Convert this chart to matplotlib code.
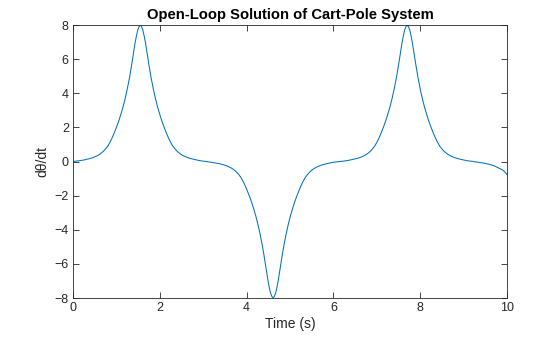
import numpy as np
import matplotlib
matplotlib.use("Agg")
import matplotlib.pyplot as plt

# values (time in s, angular velocity)
t = [0.0, 0.15, 0.25, 0.35, 0.45, 0.55, 0.6, 0.65, 0.7, 0.75, 0.8, 0.85, 0.9, 0.95,
     1.0, 1.05, 1.1, 1.15, 1.2, 1.25, 1.3, 1.35, 1.39, 1.43, 1.46, 1.49, 1.52, 1.55,
     1.58, 1.61, 1.64, 1.67, 1.71, 1.75, 1.8, 1.85, 1.9, 1.95, 2.0, 2.05, 2.1, 2.15,
     2.2, 2.25, 2.3, 2.35, 2.4, 2.45, 2.5, 2.55, 2.65, 2.75, 2.85, 2.95, 3.05, 3.15,
     3.25, 3.36, 3.46, 3.56, 3.66, 3.71, 3.76, 3.81, 3.86, 3.91, 3.96, 4.01, 4.06,
     4.11, 4.16, 4.21, 4.26, 4.31, 4.36, 4.41, 4.45, 4.49, 4.52, 4.55, 4.58, 4.61,
     4.64, 4.67, 4.7, 4.73, 4.77, 4.81, 4.86, 4.91, 4.96, 5.01, 5.06, 5.11, 5.16,
     5.21, 5.26, 5.31, 5.36, 5.41, 5.46, 5.51, 5.56, 5.61, 5.71, 5.81, 5.91, 6.01,
     6.11, 6.16, 6.25, 6.35, 6.45, 6.55, 6.65, 6.75, 6.8, 6.85, 6.9, 6.95, 7.0, 7.05,
     7.1, 7.15, 7.2, 7.25, 7.3, 7.35, 7.4, 7.45, 7.5, 7.54, 7.58, 7.61, 7.64, 7.67,
     7.7, 7.73, 7.76, 7.79, 7.82, 7.86, 7.9, 7.95, 8.0, 8.05, 8.1, 8.15, 8.2, 8.25,
     8.3, 8.35, 8.4, 8.45, 8.5, 8.55, 8.6, 8.65, 8.7, 8.8, 8.9, 9.0, 9.1, 9.2, 9.3,
     9.4, 9.5, 9.6, 9.7, 9.8, 9.85, 9.9, 9.95, 10.0]
dtheta = [0.0, 0.05, 0.09, 0.15, 0.22, 0.33, 0.4, 0.49, 0.6, 0.74, 0.9, 1.12, 1.38, 1.68,
          2.0, 2.35, 2.75, 3.18, 3.68, 4.25, 4.9, 5.65, 6.3, 6.95, 7.35, 7.7, 7.9, 8.0,
          7.9, 7.7, 7.35, 6.95, 6.3, 5.65, 4.9, 4.25, 3.68, 3.18, 2.75, 2.35, 2.0, 1.68,
          1.38, 1.12, 0.9, 0.74, 0.6, 0.49, 0.4, 0.33, 0.22, 0.15, 0.09, 0.04, 0.01, -0.03,
          -0.065, -0.12, -0.185, -0.27, -0.4, -0.49, -0.6, -0.74, -0.9, -1.12, -1.38, -1.68, -2.0,
          -2.35, -2.75, -3.18, -3.68, -4.25, -4.9, -5.65, -6.3, -6.95, -7.35, -7.7, -7.9, -8.0,
          -7.9, -7.7, -7.35, -6.95, -6.3, -5.65, -4.9, -4.25, -3.68, -3.18, -2.75, -2.35, -2.0,
          -1.68, -1.38, -1.12, -0.9, -0.74, -0.6, -0.49, -0.4, -0.33, -0.22, -0.15, -0.09, -0.04,
          -0.01, 0.0, 0.03, 0.07, 0.125, 0.185, 0.27, 0.4, 0.49, 0.6, 0.74, 0.9, 1.12, 1.38,
          1.68, 2.0, 2.35, 2.75, 3.18, 3.68, 4.25, 4.9, 5.65, 6.3, 6.95, 7.35, 7.7, 7.9,
          8.0, 7.9, 7.7, 7.35, 6.95, 6.3, 5.65, 4.9, 4.25, 3.68, 3.18, 2.75, 2.35, 2.0,
          1.68, 1.38, 1.12, 0.9, 0.74, 0.6, 0.49, 0.4, 0.33, 0.22, 0.15, 0.09, 0.04, 0.01, -0.03,
          -0.07, -0.11, -0.17, -0.25, -0.37, -0.43, -0.5, -0.62, -0.76]

xticks = [0, 2, 4, 6, 8, 10]
yticks = [-8, -6, -4, -2, 0, 2, 4, 6, 8]

plt.rcParams['font.family'] = ['Liberation Sans', 'DejaVu Sans']
dark = '#262626'

fig = plt.figure(figsize=(5.6, 3.37), dpi=100)
ax = fig.add_axes([0.1304, 0.1157, 0.775, 0.810])
ax.plot(t, dtheta, color='#0072BD', lw=0.75)

ax.set_xlim(0, 10)
ax.set_ylim(-8, 8)
ax.set_xticks(xticks)
ax.set_yticks(yticks)
ax.tick_params(direction='in', length=4, width=0.6, colors=dark, labelsize=9,
               top=True, right=True, pad=3)
for s in ax.spines.values():
    s.set_color(dark)
    s.set_linewidth(0.6)

ax.set_title('Open-Loop Solution of Cart-Pole System', fontsize=10.6, fontweight='bold',
             color='#000000', pad=4)
ax.set_xlabel('Time (s)', fontsize=10, color=dark, labelpad=2)
ax.set_ylabel('dθ/dt', fontsize=10, color=dark, labelpad=4)

fig.savefig('out.png', dpi=100)
